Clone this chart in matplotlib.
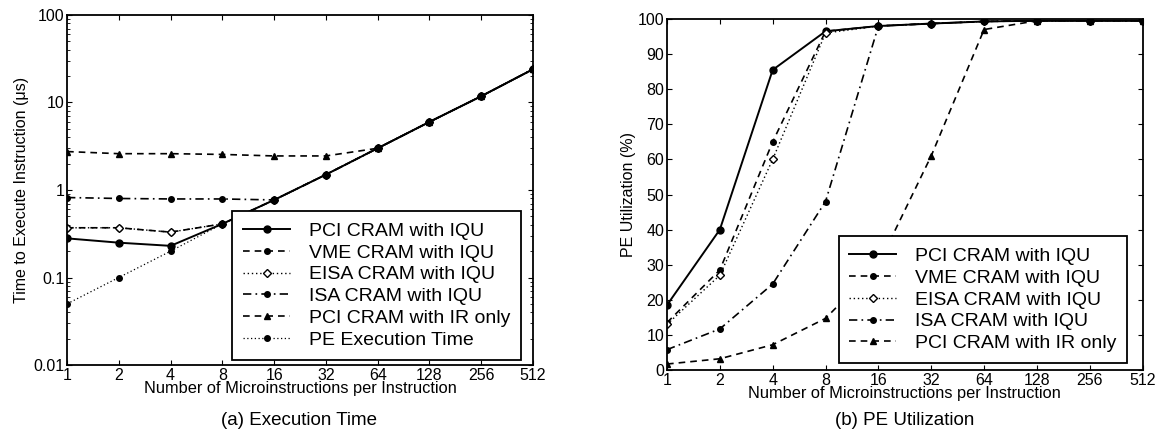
import matplotlib
matplotlib.use('Agg')
import matplotlib.pyplot as plt
from matplotlib.ticker import FixedLocator, NullLocator, LogLocator, NullFormatter

plt.rcParams['font.family'] = ['Liberation Sans', 'DejaVu Sans']
plt.rcParams['xtick.direction'] = 'in'
plt.rcParams['ytick.direction'] = 'in'

# data
n_micro = [1, 2, 4, 8, 16, 32, 64, 128, 256, 512]
tick_labels = ['1', '2', '4', '8', '16', '32', '64', '128', '256', '512']

# (a) execution time in microseconds
pci_iqu_time = [0.28, 0.25, 0.23, 0.41, 0.77, 1.5, 3.0, 6.0, 11.8, 24]
vme_iqu_time = [0.37, 0.37, 0.33, 0.41, 0.77, 1.5, 3.0, 6.0, 11.8, 24]
eisa_iqu_time = [0.37, 0.37, 0.33, 0.41, 0.77, 1.5, 3.0, 6.0, 11.8, 24]
isa_iqu_time = [0.82, 0.80, 0.79, 0.79, 0.77, 1.5, 3.0, 6.0, 11.8, 24]
pci_ir_time = [2.75, 2.6, 2.6, 2.55, 2.45, 2.45, 3.0, 6.0, 11.8, 24]
pe_exec_time = [0.05, 0.1, 0.2, 0.41, 0.77, 1.5, 3.0, 6.0, 11.8, 24]

# (b) PE utilization in percent
pci_iqu_util = [18.5, 40, 85.5, 96.5, 98, 98.7, 99.3, 99.5, 99.5, 99.5]
vme_iqu_util = [13.5, 28.5, 65, 96.5, 98, 98.7, 99.3, 99.5, 99.5, 99.5]
eisa_iqu_util = [13, 27, 60, 96, 98, 98.7, 99.3, 99.5, 99.5, 99.5]
isa_iqu_util = [5.8, 11.7, 24.5, 48, 98, 98.7, 99.3, 99.5, 99.5, 99.5]
pci_ir_util = [1.7, 3.2, 7.2, 14.7, 30, 61, 97, 99.5, 99.5, 99.5]

styles = {
    'PCI CRAM with IQU': dict(ls='-', marker='o', ms=5, mfc='black', lw=1.4),
    'VME CRAM with IQU': dict(ls=(0, (4, 3)), marker='o', ms=4, mfc='black', lw=1.2),
    'EISA CRAM with IQU': dict(ls=(0, (1, 2)), marker='D', ms=4.5, mfc='white', lw=1.0),
    'ISA CRAM with IQU': dict(ls=(0, (5, 2.5, 1, 2.5)), marker='o', ms=4, mfc='black', lw=1.2),
    'PCI CRAM with IR only': dict(ls=(0, (4, 3)), marker='^', ms=5, mfc='black', lw=1.2),
    'PE Execution Time': dict(ls=(0, (1, 2)), marker='o', ms=4, mfc='black', lw=0.9),
}

fig = plt.figure(figsize=(11.6, 4.46), dpi=100)
ax1 = fig.add_axes([0.0578, 0.1816, 0.4017, 0.7848])
ax2 = fig.add_axes([0.575, 0.1704, 0.410, 0.787])

left_series = [
    ('PCI CRAM with IQU', pci_iqu_time),
    ('VME CRAM with IQU', vme_iqu_time),
    ('EISA CRAM with IQU', eisa_iqu_time),
    ('ISA CRAM with IQU', isa_iqu_time),
    ('PCI CRAM with IR only', pci_ir_time),
    ('PE Execution Time', pe_exec_time),
]
right_series = [
    ('PCI CRAM with IQU', pci_iqu_util),
    ('VME CRAM with IQU', vme_iqu_util),
    ('EISA CRAM with IQU', eisa_iqu_util),
    ('ISA CRAM with IQU', isa_iqu_util),
    ('PCI CRAM with IR only', pci_ir_util),
]

for name, vals in left_series:
    ax1.plot(n_micro, vals, color='black', mec='black', label=name, **styles[name])
for name, vals in right_series:
    ax2.plot(n_micro, vals, color='black', mec='black', label=name, **styles[name])

for ax in (ax1, ax2):
    ax.set_xscale('log', base=2)
    ax.set_xlim(1, 512)
    ax.xaxis.set_major_locator(FixedLocator(n_micro))
    ax.xaxis.set_minor_locator(NullLocator())
    ax.set_xticklabels(tick_labels)
    ax.tick_params(which='both', top=True, right=True, labelsize=11.5, pad=2)
    ax.set_xlabel('Number of Microinstructions per Instruction', fontsize=11.8, labelpad=-1)
    for sp in ax.spines.values():
        sp.set_linewidth(1.3)
    leg = ax.legend(loc='lower right', fontsize=14, fancybox=False, framealpha=1,
                    edgecolor='black', handlelength=2.4, handletextpad=1.0,
                    borderaxespad=0, labelspacing=0.22, borderpad=0.55,
                    bbox_to_anchor=(0.975, 0.015) if ax is ax1 else (0.968, 0.02))
    leg.get_frame().set_linewidth(1.3)

ax1.set_yscale('log')
ax1.set_ylim(0.01, 100)
ax1.set_yticks([0.01, 0.1, 1, 10, 100])
ax1.set_yticklabels(['0.01', '0.1', '1', '10', '100'])
ax1.yaxis.set_minor_locator(LogLocator(base=10, subs=range(2, 10)))
ax1.yaxis.set_minor_formatter(NullFormatter())
ax1.set_ylabel('Time to Execute Instruction (\u03bcs)', fontsize=11.5, labelpad=3)

ax2.set_ylim(0, 100)
ax2.set_yticks(range(0, 101, 10))
ax2.set_ylabel('PE Utilization (%)', fontsize=11.5, labelpad=1)

fig.text(0.258, 0.058, '(a) Execution Time', ha='center', va='center', fontsize=13.5)
fig.text(0.78, 0.058, '(b) PE Utilization', ha='center', va='center', fontsize=13.5)

fig.savefig('out.png', dpi=100)
